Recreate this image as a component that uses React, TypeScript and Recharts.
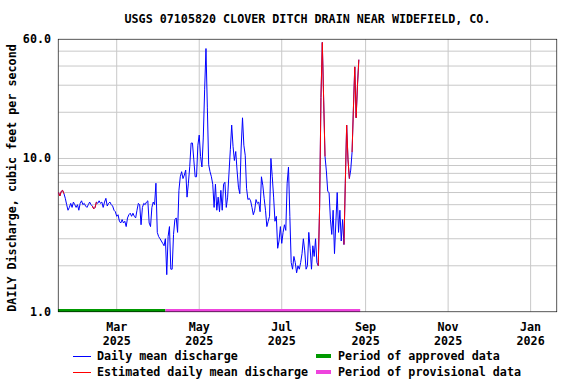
import { LineChart, Line, XAxis, YAxis, CartesianGrid, ReferenceArea } from 'recharts';

const FONT = "'DejaVu Sans Mono', 'Liberation Mono', monospace";
const TITLE = 'USGS 07105820 CLOVER DITCH DRAIN NEAR WIDEFIELD, CO.';
const Y_TITLE = 'DAILY Discharge, cubic feet per second';

// first daily value, then one value per day
const START_DATE = '2025-01-17';

// daily mean discharge, ft3/s
const dailyMean = [
  6.0, 5.7, 6.1, 6.2, 5.9, 5.5, 5.0, 4.6, 4.8, 5.1,
  4.8, 5.2, 5.0, 4.8, 5.0, 4.6, 5.1, 5.3, 5.0, 5.1,
  4.9, 4.8, 5.0, 5.2, 5.0, 4.9, 4.7, 4.8, 5.2, 5.1,
  5.3, 5.1, 5.2, 4.8, 5.2, 5.5, 4.9, 5.1, 5.2, 5.0,
  4.9, 4.6, 4.5, 4.2, 4.3, 3.9, 3.8, 4.0, 3.8, 3.9,
  3.6, 4.1, 4.3, 4.4, 4.2, 4.4, 4.2, 4.1, 4.6, 5.1,
  5.0, 3.7, 4.8, 5.1, 5.0, 5.2, 5.3, 3.8, 3.6, 4.8,
  5.2, 5.0, 6.9, 3.3, 3.1, 3.0, 2.9, 2.8, 2.7, 3.0,
  1.75, 3.1, 3.6, 1.9, 1.9, 3.2, 4.0, 4.1, 3.3, 6.2,
  7.6, 8.2, 7.4, 7.8, 8.4, 5.6, 6.9, 8.9, 12.6, 12.6,
  9.8, 7.6, 7.6, 12.2, 14.2, 10.3, 8.8, 13.6, 28, 52,
  21.6, 9.1, 8.2, 7.6, 6.8, 4.8, 6.8, 4.6, 5.6, 4.5,
  6.2, 4.6, 6.8, 7.0, 4.8, 5.6, 8.0, 11.4, 16.5, 12.0,
  9.7, 11.1, 8.3, 6.5, 5.9, 11.7, 18.4, 12.2, 10.5, 6.4,
  5.4, 5.5, 5.3, 4.8, 4.3, 4.6, 5.4, 5.1, 5.2, 4.5,
  7.6, 6.7, 5.5, 4.6, 3.6, 3.9, 4.2, 10.0, 7.6, 5.6,
  3.9, 4.2, 2.6, 2.9, 3.6, 2.8, 3.3, 3.7, 3.4, 6.9,
  8.8, 4.2, 2.1, 1.9, 2.3, 2.1, 1.8, 2.0, 1.9, 2.1,
  2.4, 3.0, 2.5, 1.9, 2.0, 3.3, 2.6, 1.9, 2.7, 2.3,
  3.0, 2.1, 2.0, 4.8, 25, 57, 24, 10.3, 8.3, 6.1,
  6.0, 4.0, 3.2, 4.6, 2.4, 3.8, 6.0, 3.3, 4.6, 2.9,
  4.0, 2.75, 6.9, 16.5, 9.8, 7.4, 8.4, 11.0, 21.3, 39.5,
  18.4, 30, 44,
];

// positions in dailyMean that are estimated values
const estimatedIdx = [1, 2, 3, 26, 27, 193, 194, 195, 196, 212, 213, 214, 218, 219, 220, 222];

const approvedPeriod = ['2025-01-17', '2025-04-06'];
const provisionalPeriod = ['2025-04-06', '2025-08-28'];

const tickDates = ['2025-03-01', '2025-05-01', '2025-07-01', '2025-09-01', '2025-11-01', '2026-01-01'];
const tickMonths = ['Mar', 'May', 'Jul', 'Sep', 'Nov', 'Jan'];
const tickYears = ['2025', '2025', '2025', '2025', '2025', '2026'];

const yTicks = [1, 2, 3, 4, 5, 6, 7, 8, 9, 10, 20, 30, 40, 50, 60];
const yLabels: Record<number, string> = { 1: '1.0', 10: '10.0', 60: '60.0' };

const BASE = Date.UTC(2025, 0, 16);
const toDay = (s: string) => (Date.parse(s) - BASE) / 86400000;
const X_DOMAIN: [number, number] = [0.6, 369.5];

const est = new Set(estimatedIdx);
const day0 = toDay(START_DATE);
const data = dailyMean.map((v, i) => ({
  day: day0 + i,
  mean: v,
  est: est.has(i) || est.has(i - 1) || est.has(i + 1) ? v : null,
}));
const tickDays = tickDates.map(toDay);

const textStyle = { fontFamily: FONT, fontWeight: 700, fontSize: 11.7, fill: '#000' };

const XTick = (props: any) => {
  const { x, y, payload } = props;
  const i = tickDays.indexOf(payload.value);
  return (
    <g>
      <text x={x} y={y + 17} textAnchor="middle" {...textStyle}>{tickMonths[i]}</text>
      <text x={x} y={y + 31} textAnchor="middle" {...textStyle}>{tickYears[i]}</text>
    </g>
  );
};

const YTick = (props: any) => {
  const { x, y, payload } = props;
  const label = yLabels[payload.value];
  if (!label) return null;
  return (
    <text x={x - 5} y={y + 4} textAnchor="end" {...textStyle}>{label}</text>
  );
};

const LegendItem = ({ color, thick, text }: { color: string; thick?: boolean; text: string }) => (
  <div style={{ display: 'flex', alignItems: 'center', height: 16 }}>
    <span style={{ display: 'inline-block', width: thick ? 15 : 18, height: thick ? 4 : 1, background: color, marginRight: thick ? 7 : 6 }} />
    <span>{text}</span>
  </div>
);

export default function App() {
  return (
    <div style={{ position: 'absolute', left: 0, top: 0, width: 576, height: 384, background: '#fff', fontFamily: FONT, fontWeight: 700, fontSize: 11.7 }}>
      <div style={{ position: 'absolute', left: 58, width: 499, top: 12, textAlign: 'center', whiteSpace: 'nowrap' }}>{TITLE}</div>
      <LineChart width={576} height={384} data={data} margin={{ top: 39, right: 19, bottom: 0, left: 0 }}>
        <CartesianGrid stroke="#c8c8c8" strokeWidth={1} />
        <XAxis
          dataKey="day"
          type="number"
          domain={X_DOMAIN}
          ticks={tickDays}
          interval={0}
          allowDataOverflow
          tick={<XTick />}
          tickLine={false}
          axisLine={false}
          tickSize={0}
          height={72}
        />
        <YAxis
          type="number"
          scale="log"
          domain={[1, 60]}
          ticks={yTicks}
          interval={0}
          allowDataOverflow
          tick={<YTick />}
          tickLine={false}
          axisLine={false}
          tickSize={0}
          width={58}
        />
        <Line dataKey="mean" stroke="#0000ff" strokeWidth={1} dot={false} activeDot={false} isAnimationActive={false} />
        <Line dataKey="est" stroke="#ff0000" strokeWidth={1} dot={false} activeDot={false} isAnimationActive={false} connectNulls={false} />
        <ReferenceArea ifOverflow="hidden" x1={toDay(approvedPeriod[0]) - 0.5} x2={toDay(approvedPeriod[1])} y1={1} y2={1.045} fill="#009900" fillOpacity={1} stroke="none" />
        <ReferenceArea ifOverflow="hidden" x1={toDay(provisionalPeriod[0])} x2={toDay(provisionalPeriod[1])} y1={1} y2={1.045} fill="#ee44dd" fillOpacity={1} stroke="none" />
        <ReferenceArea ifOverflow="hidden" x1={X_DOMAIN[0]} x2={X_DOMAIN[1]} y1={1} y2={60} fill="none" stroke="#000" strokeWidth={1} />
      </LineChart>
      <svg style={{ position: 'absolute', left: 0, top: 0, pointerEvents: 'none' }} width={30} height={384}>
        <text x={16} y={178} transform="rotate(-90, 16, 178)" textAnchor="middle" {...textStyle}>{Y_TITLE}</text>
      </svg>
      <div style={{ position: 'absolute', left: 73, top: 348 }}>
        <LegendItem color="#0000ff" text="Daily mean discharge" />
        <LegendItem color="#ff0000" text="Estimated daily mean discharge" />
      </div>
      <div style={{ position: 'absolute', left: 316, top: 348 }}>
        <LegendItem color="#009900" thick text="Period of approved data" />
        <LegendItem color="#ee44dd" thick text="Period of provisional data" />
      </div>
    </div>
  );
}
